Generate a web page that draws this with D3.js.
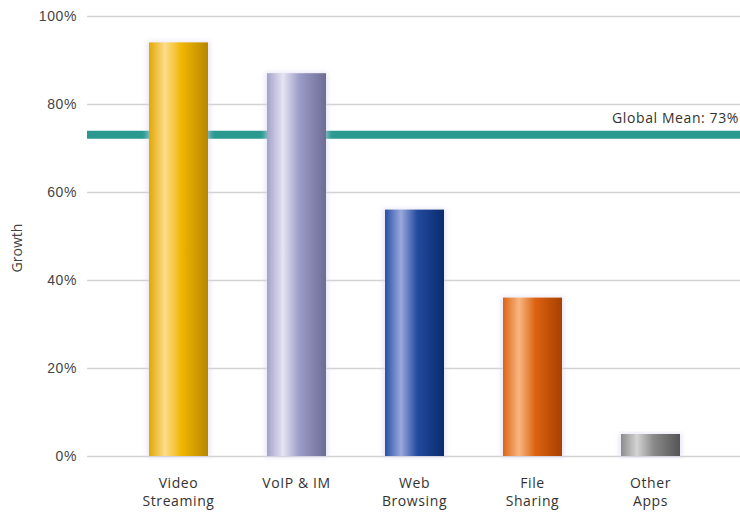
<!DOCTYPE html>
<html>
<head>
<meta charset="utf-8">
<script src="https://cdn.jsdelivr.net/npm/d3@7"></script>
<style>
  body { margin: 0; background: #fff; }
  svg { display: block; font-family: "Open Sans", "DejaVu Sans", sans-serif; }
</style>
</head>
<body>
<script>
// data
var categories = [["Video", "Streaming"], ["VoIP & IM"], ["Web", "Browsing"], ["File", "Sharing"], ["Other", "Apps"]];
var growth = [94, 87, 56, 36, 5];
var globalMean = 73;
var yTicks = [0, 20, 40, 60, 80, 100];

// gradient stops per bar: left, highlight, mid, right
var barColors = [
  ["#e2a800", "#fddc8c", "#f0b600", "#b88600"],
  ["#a2a2c8", "#e4e4f2", "#9c9cc8", "#6c6c94"],
  ["#2850a6", "#9aa8dc", "#224a9e", "#0a2c6c"],
  ["#dc6414", "#f8b682", "#dc6210", "#a84000"],
  ["#8c8c8c", "#d4d4d4", "#8a8a8a", "#555555"]
];

var width = 740, height = 512;

var svg = d3.select("body").append("svg")
    .attr("width", width)
    .attr("height", height);

var x = d3.scaleBand()
    .domain(d3.range(growth.length))
    .range([88, 741])
    .paddingInner(0.5)
    .paddingOuter(0.517);

var y = d3.scaleLinear()
    .domain([0, 100])
    .range([456, 16]);

var defs = svg.append("defs");
barColors.forEach(function(c, i) {
  var g = defs.append("linearGradient")
      .attr("id", "grad" + i)
      .attr("x1", "0%").attr("x2", "100%")
      .attr("y1", "0%").attr("y2", "0%");
  g.append("stop").attr("offset", "0%").attr("stop-color", c[0]);
  g.append("stop").attr("offset", "27%").attr("stop-color", c[1]);
  g.append("stop").attr("offset", "55%").attr("stop-color", c[2]);
  g.append("stop").attr("offset", "100%").attr("stop-color", c[3]);
});
defs.append("filter").attr("id", "glow")
    .attr("x", "-20%").attr("y", "-5%").attr("width", "140%").attr("height", "110%")
  .append("feGaussianBlur").attr("stdDeviation", 2.5);

// gridlines + y tick labels
var yAxis = d3.axisLeft(y)
    .tickValues(yTicks)
    .tickSize(-(width - 87))
    .tickFormat(function(d) { return d + "%"; });

svg.append("g")
    .attr("transform", "translate(87,0)")
    .call(yAxis)
    .call(function(g) {
      g.select(".domain").remove();
      g.selectAll(".tick line").attr("stroke", "#d2d2d2").attr("stroke-width", 1.5);
      g.selectAll(".tick text")
        .attr("x", -10)
        .attr("fill", "#444")
        .style("font-size", "14px")
        .style("letter-spacing", "0.6px");
    });

// axis title
svg.append("text")
    .attr("transform", "translate(22,248) rotate(-90)")
    .attr("text-anchor", "middle")
    .attr("fill", "#444")
    .style("font-size", "14px")
    .text("Growth");

// mean line (sits behind the bars)
svg.append("line")
    .attr("x1", 87).attr("x2", width)
    .attr("y1", y(globalMean)).attr("y2", y(globalMean))
    .attr("stroke", "#2a9a90")
    .attr("stroke-width", 8);

svg.append("text")
    .attr("x", 739)
    .attr("y", y(globalMean) - 12)
    .attr("text-anchor", "end")
    .attr("fill", "#333")
    .style("font-size", "14px")
    .style("letter-spacing", "0.6px")
    .text("Global Mean: " + globalMean + "%");

// soft glow behind bars
svg.append("g").selectAll("rect")
    .data(growth)
    .enter().append("rect")
    .attr("x", function(d, i) { return x(i) - 2; })
    .attr("y", function(d) { return y(d) - 1; })
    .attr("width", x.bandwidth() + 4)
    .attr("height", function(d) { return y(0) - y(d) + 2; })
    .attr("fill", "#d8d4f0")
    .attr("opacity", 0.6)
    .attr("filter", "url(#glow)");

svg.append("g").selectAll("rect")
    .data(growth)
    .enter().append("rect")
    .attr("x", function(d, i) { return x(i); })
    .attr("y", function(d) { return y(d); })
    .attr("width", x.bandwidth())
    .attr("height", function(d) { return y(0) - y(d); })
    .attr("fill", function(d, i) { return "url(#grad" + i + ")"; });

// category labels
var labels = svg.append("g").selectAll("text")
    .data(categories)
    .enter().append("text")
    .attr("text-anchor", "middle")
    .attr("fill", "#333")
    .style("font-size", "14px")
    .style("letter-spacing", "0.6px");

labels.selectAll("tspan")
    .data(function(d, i) { return d.map(function(t) { return { t: t, i: i }; }); })
    .enter().append("tspan")
    .attr("x", function(d) { return x(d.i) + x.bandwidth() / 2; })
    .attr("y", function(d, j) { return 488 + j * 18; })
    .text(function(d) { return d.t; });
</script>
</body>
</html>
